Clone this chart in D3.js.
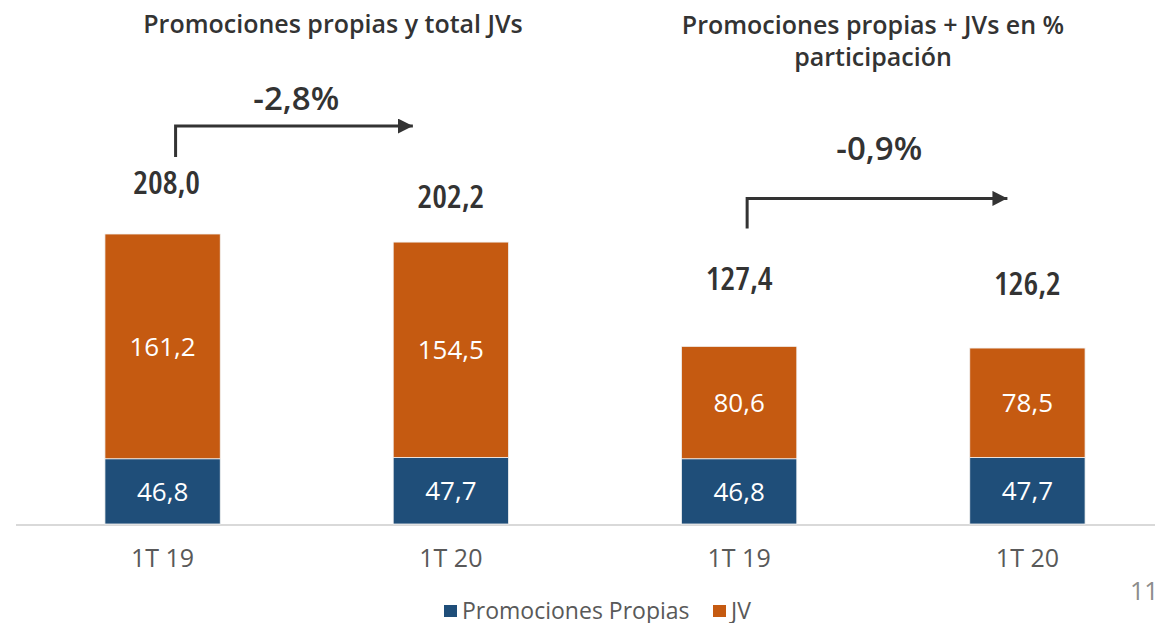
<!DOCTYPE html>
<html>
<head>
<meta charset="utf-8">
<script src="https://cdn.jsdelivr.net/npm/d3@7"></script>
<style>
  body { margin: 0; background: #fff; }
  svg text { font-family: "Open Sans", "Noto Sans", sans-serif; }
</style>
</head>
<body>
<div class="content"></div>
<script>
// data
var periods = ["1T 19", "1T 20", "1T 19", "1T 20"];
var propias = [46.8, 47.7, 46.8, 47.7];
var jv = [161.2, 154.5, 80.6, 78.5];
var totals = [208.0, 202.2, 127.4, 126.2];
var changes = ["-2,8%", "-0,9%"];
var seriesNames = ["Promociones Propias", "JV"];
var colors = ["#1F4E79", "#C55A11"];

var width = 1155, height = 623;

var svg = d3.select(".content")
    .append("svg")
    .attr("width", width)
    .attr("height", height);

// one band per bar, both panels share the scale
var x = d3.scaleBand()
    .domain(d3.range(periods.length))
    .range([0, 1190])
    .paddingInner(0.6)
    .paddingOuter(0.364);

var y = d3.scaleLinear()
    .domain([0, 208])
    .range([524, 234]);

var rows = periods.map(function(p, i) { return {i: i, propias: propias[i], jv: jv[i]}; });
var stack = d3.stack().keys(["propias", "jv"])(rows);

// baseline
svg.append("line")
    .attr("x1", 16).attr("x2", width)
    .attr("y1", y(0) + 1).attr("y2", y(0) + 1)
    .attr("stroke", "#d9d9d9")
    .attr("stroke-width", 2);

var layer = svg.selectAll(".layer")
    .data(stack)
    .enter().append("g")
    .attr("fill", function(d, k) { return colors[k]; });

layer.selectAll("rect")
    .data(function(d) { return d; })
    .enter().append("rect")
    .attr("x", function(d) { return x(d.data.i); })
    .attr("width", x.bandwidth())
    .attr("y", function(d) { return y(d[1]); })
    .attr("height", function(d) { return y(d[0]) - y(d[1]); })
    .attr("stroke", "#f2f2f2")
    .attr("stroke-width", 0.8);

// values inside segments
layer.selectAll("text")
    .data(function(d) { return d; })
    .enter().append("text")
    .attr("x", function(d) { return x(d.data.i) + x.bandwidth() / 2; })
    .attr("y", function(d) { return (y(d[0]) + y(d[1])) / 2; })
    .attr("dy", "0.36em")
    .attr("text-anchor", "middle")
    .attr("fill", "#fff")
    .style("font-size", "26px")
    .text(function(d) { return d3.format(".1f")(d[1] - d[0]).replace(".", ","); });

// totals above bars (left panel labels sit closer than right panel)
var totalGap = [40, 34, 56, 53];
svg.selectAll(".total")
    .data(totals)
    .enter().append("text")
    .attr("x", function(d, i) { return x(i) + x.bandwidth() / 2 + (i === 0 ? 4 : 0); })
    .attr("y", function(d, i) { return y(d) - totalGap[i]; })
    .attr("text-anchor", "middle")
    .attr("fill", "#333")
    .style("font-size", "33px")
    .style("font-weight", "600")
    .style("font-stretch", "75%")
    .text(function(d) { return d3.format(".1f")(d).replace(".", ","); });

// category axis
var xAxis = svg.append("g")
    .attr("transform", "translate(0," + y(0) + ")")
    .call(d3.axisBottom(x).tickSize(0).tickPadding(25).tickFormat(function(i) { return periods[i]; }));
xAxis.select(".domain").remove();
xAxis.selectAll("text")
    .attr("fill", "#595959")
    .style("font-size", "25px")
    .style("font-family", null);

// panel titles
svg.append("text")
    .attr("x", 333).attr("y", 33)
    .attr("text-anchor", "middle")
    .attr("fill", "#333")
    .style("font-size", "25px").style("font-weight", "600")
    .text("Promociones propias y total JVs");
var t2 = svg.append("text")
    .attr("x", 873).attr("y", 34)
    .attr("text-anchor", "middle")
    .attr("fill", "#333")
    .style("font-size", "25px").style("font-weight", "600");
t2.append("tspan").attr("x", 873).text("Promociones propias + JVs en  %");
t2.append("tspan").attr("x", 873).attr("dy", 32).text("participación");

// change arrows
svg.append("defs").append("marker")
    .attr("id", "head")
    .attr("viewBox", "0 0 10 10")
    .attr("refX", 10).attr("refY", 5)
    .attr("markerWidth", 5).attr("markerHeight", 5)
    .attr("markerUnits", "strokeWidth")
    .attr("orient", "auto")
    .append("path")
    .attr("d", "M0,0L10,5L0,10Z")
    .attr("fill", "#333");

var arrows = [
    {from: 0, to: 1, dx0: 13, dx1: -38, bottom: 77, top: 108, label: changes[0], labelUp: 16},
    {from: 2, to: 3, dx0: 8, dx1: -20, bottom: 118, top: 148, label: changes[1], labelUp: 38}
];
arrows.forEach(function(a) {
    var x0 = x(a.from) + x.bandwidth() / 2 + a.dx0;
    var x1 = x(a.to) + x.bandwidth() / 2 + a.dx1;
    var yb = y(totals[a.from]) - a.bottom;
    var yt = y(totals[a.from]) - a.top;
    svg.append("path")
        .attr("d", d3.line()([[x0, yb], [x0, yt], [x1, yt]]))
        .attr("fill", "none")
        .attr("stroke", "#333")
        .attr("stroke-width", 3)
        .attr("marker-end", "url(#head)");
    svg.append("text")
        .attr("x", (x0 + x1) / 2 + 2)
        .attr("y", yt - a.labelUp)
        .attr("text-anchor", "middle")
        .attr("fill", "#333")
        .style("font-size", "33px")
        .style("font-weight", "600")
        .text(a.label);
});

// legend
var legend = svg.append("g").attr("transform", "translate(444,604)");
var lx = [0, 269];
seriesNames.forEach(function(name, k) {
    legend.append("rect")
        .attr("x", lx[k]).attr("y", 1)
        .attr("width", 13).attr("height", 12)
        .attr("fill", colors[k]);
    legend.append("text")
        .attr("x", lx[k] + 18).attr("y", 15)
        .attr("fill", "#595959")
        .style("font-size", "23px")
        .style("font-stretch", "92%")
        .text(name);
});

// page number
svg.append("text")
    .attr("x", 1130).attr("y", 600)
    .attr("fill", "#8c8c8c")
    .style("font-size", "25px")
    .text("11");
</script>
</body>
</html>
